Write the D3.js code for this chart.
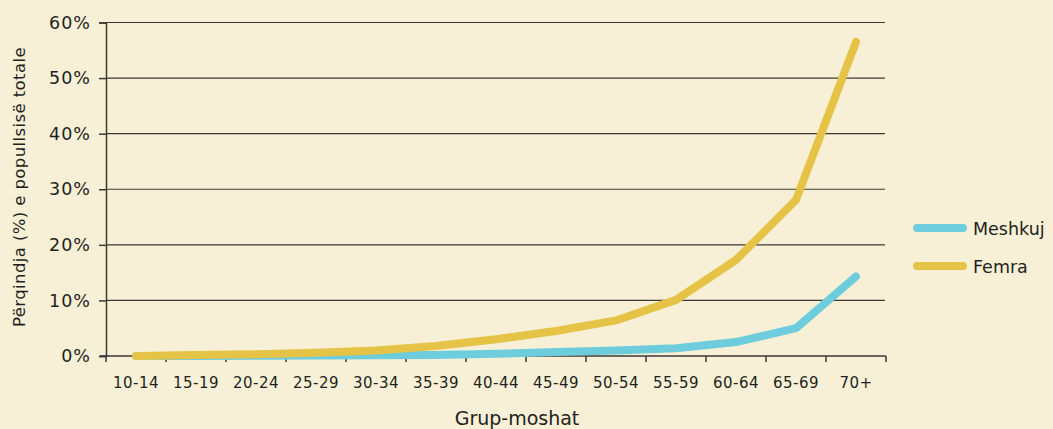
<!DOCTYPE html>
<html>
<head>
<meta charset="utf-8">
<script src="https://cdn.jsdelivr.net/npm/d3@7"></script>
<style>
  body { margin: 0; background: #f8f0d6; }
  text { font-family: "DejaVu Sans", sans-serif; fill: #231f20; }
</style>
</head>
<body>
<div id="chart"></div>
<script>
const ageGroups = ["10-14", "15-19", "20-24", "25-29", "30-34", "35-39", "40-44",
    "45-49", "50-54", "55-59", "60-64", "65-69", "70+"];
const meshkuj = [0.0, 0.0, 0.05, 0.1, 0.15, 0.2, 0.4, 0.7, 1.0, 1.4, 2.5, 5.0, 14.3];
const femra = [0.0, 0.2, 0.3, 0.6, 1.0, 1.8, 3.0, 4.5, 6.4, 10.1, 17.3, 28.1, 56.5];
const yTicks = [0, 10, 20, 30, 40, 50, 60];
const seriesNames = ["Meshkuj", "Femra"];
const seriesColors = ["#6ecddd", "#e4c347"];

const width = 1053;
const height = 429;

const svg = d3.select("#chart")
    .append("svg")
    .attr("width", width)
    .attr("height", height)
    .style("background", "#f8f0d6");

const x = d3.scaleBand().domain(ageGroups).range([106, 886]).padding(0);
const y = d3.scaleLinear().domain([0, 60]).range([356, 22.5]);

// gridlines
svg.selectAll(".grid")
    .data(yTicks.filter(d => d > 0))
    .enter()
    .append("line")
    .attr("x1", 106)
    .attr("x2", 885)
    .attr("y1", d => y(d))
    .attr("y2", d => y(d))
    .attr("stroke", "#3b3835")
    .attr("stroke-width", 1.2);

// y axis
const yAxis = svg.append("g")
    .attr("transform", "translate(106,0)")
    .call(d3.axisLeft(y).tickValues(yTicks).tickSize(7).tickPadding(8).tickFormat(d => d + "%"));
yAxis.select(".domain").attr("stroke", "#3b3835").attr("stroke-width", 1.5);
yAxis.selectAll(".tick line").attr("stroke", "#3b3835").attr("stroke-width", 1.5);
yAxis.selectAll("text")
    .style("font-size", "17.5px")
    .style("letter-spacing", "1px")
    .style("font-family", "DejaVu Sans")
    .attr("fill", "#231f20");

// x axis baseline and ticks at band edges
svg.append("line")
    .attr("x1", 100).attr("x2", 886)
    .attr("y1", y(0)).attr("y2", y(0))
    .attr("stroke", "#3b3835").attr("stroke-width", 1.5);

const edges = ageGroups.map(d => x(d)).concat([x(ageGroups[ageGroups.length - 1]) + x.bandwidth()]);
svg.selectAll(".xtick")
    .data(edges)
    .enter()
    .append("line")
    .attr("x1", d => d).attr("x2", d => d)
    .attr("y1", y(0)).attr("y2", y(0) + 6)
    .attr("stroke", "#3b3835").attr("stroke-width", 1.5);

svg.selectAll(".xlabel")
    .data(ageGroups)
    .enter()
    .append("text")
    .attr("x", d => x(d) + x.bandwidth() / 2)
    .attr("y", 388)
    .attr("text-anchor", "middle")
    .style("font-size", "15px")
    .style("letter-spacing", "0.5px")
    .text(d => d);

// lines
const line = d3.line()
    .x((d, i) => x(ageGroups[i]) + x.bandwidth() / 2)
    .y(d => y(d));

[meshkuj, femra].forEach((s, i) => {
    svg.append("path")
        .datum(s)
        .attr("fill", "none")
        .attr("stroke", seriesColors[i])
        .attr("stroke-width", 8)
        .attr("stroke-linecap", "round")
        .attr("stroke-linejoin", "round")
        .attr("d", line);
});

// axis titles
svg.append("text")
    .attr("transform", "translate(25,187) rotate(-90)")
    .attr("text-anchor", "middle")
    .style("font-size", "16.5px")
    .style("letter-spacing", "0.4px")
    .text("Përqindja (%) e popullsisë totale");

svg.append("text")
    .attr("x", 517)
    .attr("y", 425)
    .attr("text-anchor", "middle")
    .style("font-size", "19px")
    .text("Grup-moshat");

// legend
const legend = svg.selectAll(".legend")
    .data(seriesNames)
    .enter()
    .append("g")
    .attr("transform", (d, i) => "translate(917," + (228 + i * 38) + ")");

legend.append("line")
    .attr("x1", 0).attr("x2", 46)
    .attr("y1", 0).attr("y2", 0)
    .attr("stroke", (d, i) => seriesColors[i])
    .attr("stroke-width", 8)
    .attr("stroke-linecap", "round");

legend.append("text")
    .attr("x", 56)
    .attr("y", 6.5)
    .style("font-size", "17.5px")
    .text(d => d);
</script>
</body>
</html>
